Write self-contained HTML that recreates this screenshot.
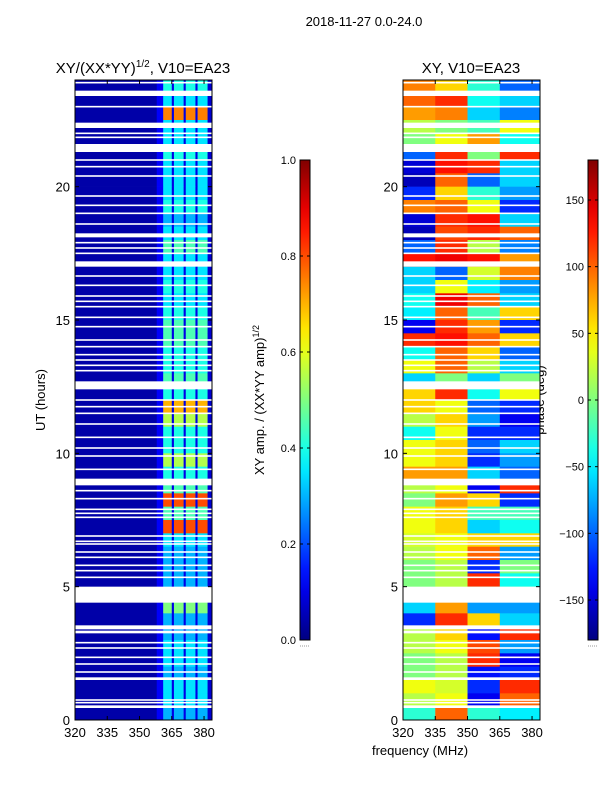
<!DOCTYPE html>
<html><head><meta charset="utf-8"><style>
body{margin:0;background:#fff;width:600px;height:800px;overflow:hidden}
svg{font-family:"Liberation Sans",sans-serif}
</style></head><body>
<svg id="s" width="600" height="800">
<text x="364" y="26" font-size="13" text-anchor="middle">2018-11-27 0.0-24.0</text>
<text x="143" y="73" font-size="15" text-anchor="middle">XY/(XX*YY)<tspan font-size="10" dy="-6">1/2</tspan><tspan dy="6">, V10=EA23</tspan></text>
<text x="471" y="73" font-size="15" text-anchor="middle">XY, V10=EA23</text>
<text x="45" y="400" font-size="13" text-anchor="middle" transform="rotate(-90 45 400)">UT (hours)</text>
<text x="420" y="755" font-size="13" text-anchor="middle">frequency (MHz)</text>
<text x="264" y="400" font-size="13" text-anchor="middle" transform="rotate(-90 264 400)">XY amp. / (XX*YY amp)<tspan font-size="9" dy="-5">1/2</tspan></text>
<text x="544" y="400" font-size="13" text-anchor="middle" transform="rotate(-90 544 400)">phase (deg)</text>
<g id="L"></g>
<g id="R"></g>
<g id="A"></g>
</svg>
<script>
const gaps=[[23.4,23.6],[22.2,22.4],[21.3,21.6],[18.1,18.25],[17.0,17.2],[12.4,12.7],[8.8,9.05],[4.4,5.0],[3.4,3.55],[3.25,3.35],[1.5,1.6],[0.45,0.55]];
const thinGaps=[23.9,23.0,22.0,21.85,21.0,20.75,20.4,19.65,19.3,19.0,18.6,17.9,17.7,17.5,16.65,16.3,15.9,15.7,15.5,15.1,14.75,14.25,14.0,13.7,13.5,13.3,13.1,12.0,11.75,11.5,11.1,10.6,10.2,9.9,9.4,8.6,8.3,7.9,7.75,7.6,6.9,6.7,6.6,6.3,6.1,5.8,5.6,5.35,2.9,2.7,2.35,2.1,1.8,0.75,0.65];
// amplitude per half hour, from 24h down to 0h
const bandAmp=[0.4,0.35,0.75,0.35,0.35,0.4,0.35,0.35,0.35,0.4,0.3,0.35,0.45,0.35,0.35,0.4,0.35,0.4,0.45,0.45,0.4,0.4,0.45,0.4,
0.7,0.55,0.4,0.4,0.55,0.4,0.45,0.8,0.45,0.8,0.35,0.3,0.3,0.3,0.3,0.5,0.3,0.3,0.35,0.35,0.3,0.35,0.35,0.3];
const bands=[[361,365],[366,370.5],[371.5,376],[377,381.5]];
// phase per half hour (24h down to 0h), columns 320-335,335-350,350-365,365-384
const phaseA=[90,100,80,20,0,-100,-150,-160,-120,90,-150,-160,-100,130,-60,-60,-40,-50,-140,120,-40,40,-60,60,60,20,-40,40,40,80,20,0,40,40,30,20,0,0,0,-60,-120,20,20,0,0,40,20,-30];
const phaseB=[60,120,90,0,40,120,130,100,60,100,120,110,120,140,-100,40,140,100,120,130,100,100,0,120,40,60,40,60,60,80,40,80,60,60,40,40,20,20,20,80,120,60,40,20,20,30,40,100];
const phaseC=[-30,-40,-60,-20,80,0,120,-100,-30,40,130,120,20,130,30,-50,100,-20,80,100,60,20,-60,-40,-100,-80,-120,-100,-120,-60,-140,60,-20,-60,60,100,-120,120,0,-80,60,-130,110,120,-130,-120,-140,-30];
const phaseD=[-100,-60,-90,40,-40,120,-60,-60,-80,-120,-60,100,-90,80,90,-80,-60,60,-120,60,-100,-60,0,40,-120,-140,-120,-60,-80,-100,120,-120,-20,-40,60,-80,0,-40,0,-80,-60,120,-80,-140,-120,120,100,-50];
const ampTicks=[0,0.2,0.4,0.6,0.8,1.0], phTicks=[-150,-100,-50,0,50,100,150];
const hourTicks=[0,5,10,15,20], freqTicks=[320,335,350,365,380];
const NS='http://www.w3.org/2000/svg';
function jet(v){v=Math.max(0,Math.min(1,v));const r=Math.min(4*v-1.5,-4*v+4.5),g=Math.min(4*v-0.5,-4*v+3.5),b=Math.min(4*v+0.5,-4*v+2.5);const c=x=>Math.round(255*Math.max(0,Math.min(1,x)));return`rgb(${c(r)},${c(g)},${c(b)})`;}
function mk(p,t,a){const e=document.createElementNS(NS,t);for(const k in a)e.setAttribute(k,a[k]);p.appendChild(e);return e;}
const Y0=80,Y1=720; const yS=h=>Y1-(h/24)*(Y1-Y0);
const LX0=75,LX1=212,RX0=403,RX1=540,F0=320,F1=383.7;
const xL=f=>LX0+(f-F0)/(F1-F0)*(LX1-LX0), xR=f=>RX0+(f-F0)/(F1-F0)*(RX1-RX0);
const L=document.getElementById('L'),R=document.getElementById('R'),A=document.getElementById('A');
bandAmp.forEach((v,i)=>{const hTop=24-i*0.5,y=yS(hTop),h=yS(hTop-0.5)-y;
 const segs=[[F0,358,0.04],[358,361,0.12],[381.5,F1,0.08]];
 bands.forEach((b,j)=>{segs.push([b[0],b[1],v]); if(j<3)segs.push([b[1],bands[j+1][0],0.1]);});
 segs.forEach(s=>{const r=mk(L,'rect',{x:xL(s[0]),y:y,width:xL(s[1])-xL(s[0])+0.3,height:h+0.3,fill:jet(s[2])});
  
  });
});
const cols=[[320,335,phaseA],[335,350,phaseB],[350,365,phaseC],[365,F1,phaseD]];
for(let i=0;i<48;i++){const hTop=24-i*0.5,y=yS(hTop),h=yS(hTop-0.5)-y;
 cols.forEach(c=>{const r=mk(R,'rect',{x:xR(c[0]),y:y,width:xR(c[1])-xR(c[0])+0.3,height:h+0.3,fill:jet((c[2][i]+180)/360)});
  
  });
}
function gapRects(g,x0,x1){gaps.forEach(gp=>{const r=mk(g,'rect',{x:x0,y:yS(gp[1]),width:x1-x0,height:yS(gp[0])-yS(gp[1]),fill:'#fff'});
 
 });
 thinGaps.forEach(t=>{const r=mk(g,'rect',{x:x0,y:yS(t)-0.8,width:x1-x0,height:1.6,fill:'#fff'});
 
 });}
gapRects(L,LX0,LX1);gapRects(R,RX0,RX1);
function axes(x0,x1,xf){mk(A,'rect',{x:x0,y:Y0,width:x1-x0,height:Y1-Y0,fill:'none',stroke:'#000','stroke-width':1});
 hourTicks.forEach(h=>{const y=yS(h);mk(A,'line',{x1:x0,x2:x0+4,y1:y,y2:y,stroke:'#000'});mk(A,'line',{x1:x1,x2:x1-4,y1:y,y2:y,stroke:'#000'});
  const t=mk(A,'text',{x:x0-5,y:y+5,'font-size':13,'text-anchor':'end'});t.textContent=h;
  
  });
 freqTicks.forEach(f=>{const x=xf(f);mk(A,'line',{x1:x,x2:x,y1:Y1,y2:Y1-4,stroke:'#000'});mk(A,'line',{x1:x,x2:x,y1:Y0,y2:Y0+4,stroke:'#000'});
  const t=mk(A,'text',{x:x,y:Y1+17,'font-size':13,'text-anchor':'middle'});t.textContent=f;
  
  });}
axes(LX0,LX1,xL);axes(RX0,RX1,xR);
function cbar(x,lo,hi,ticks,fmt,id){const d=mk(A,'defs',{});const lg=mk(d,'linearGradient',{id:id,x1:0,y1:1,x2:0,y2:0});
 for(let i=0;i<=20;i++)mk(lg,'stop',{offset:i/20,'stop-color':jet(i/20)});
 const r=mk(A,'rect',{x:x,y:160,width:10,height:480,fill:`url(#${id})`,stroke:'#000'});
 
 
 ticks.forEach(v=>{const y=640-(v-lo)/(hi-lo)*480;mk(A,'line',{x1:x,x2:x+3,y1:y,y2:y,stroke:'#000'});mk(A,'line',{x1:x+10,x2:x+7,y1:y,y2:y,stroke:'#000'});
  const t=mk(A,'text',{x:x-4,y:y+4,'font-size':11,'text-anchor':'end'});t.textContent=fmt(v);
  
  });
 mk(A,'line',{x1:x,x2:x+10,y1:646,y2:646,stroke:'#999','stroke-dasharray':'1,1'});}
cbar(300,0,1,ampTicks,v=>v.toFixed(1),'g1');
cbar(588,-180,180,phTicks,v=>v<0?'\u2212'+(-v):''+v,'g2');
</script>
</body></html>
